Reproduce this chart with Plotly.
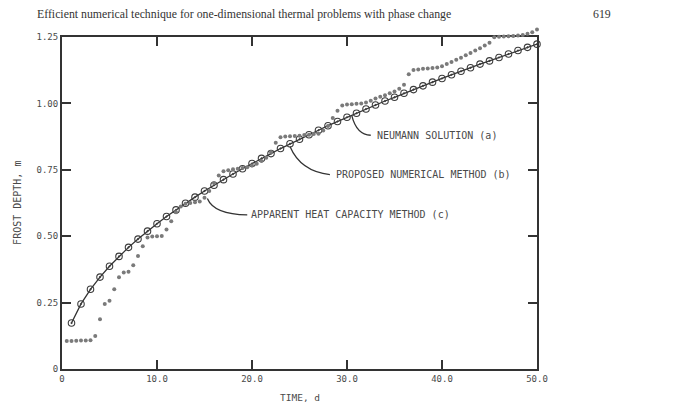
import plotly.graph_objects as go

# Neumann solution (a) / proposed numerical method (b): daily values
neumann_time = [1, 2, 3, 4, 5, 6, 7, 8, 9, 10, 11, 12, 13, 14, 15, 16, 17, 18, 19, 20,
                21, 22, 23, 24, 25, 26, 27, 28, 29, 30, 31, 32, 33, 34, 35, 36, 37, 38, 39, 40,
                41, 42, 43, 44, 45, 46, 47, 48, 49, 50]
neumann_depth = [0.173, 0.245, 0.300, 0.346, 0.387, 0.424, 0.458, 0.489, 0.519, 0.547,
                 0.574, 0.599, 0.624, 0.647, 0.670, 0.692, 0.713, 0.734, 0.754, 0.774,
                 0.793, 0.811, 0.830, 0.848, 0.865, 0.882, 0.899, 0.916, 0.932, 0.948,
                 0.963, 0.979, 0.994, 1.009, 1.023, 1.038, 1.052, 1.066, 1.080, 1.094,
                 1.108, 1.121, 1.134, 1.148, 1.160, 1.173, 1.186, 1.199, 1.211, 1.223]

# Apparent heat capacity method (c): half-day values
apparent_time = [0.5, 1.0, 1.5, 2.0, 2.5, 3.0, 3.5, 4.0, 4.5, 5.0,
                 5.5, 6.0, 6.5, 7.0, 7.5, 8.0, 8.5, 9.0, 9.5, 10.0,
                 10.5, 11.0, 11.5, 12.0, 12.5, 13.0, 13.5, 14.0, 14.5, 15.0,
                 15.5, 16.0, 16.5, 17.0, 17.5, 18.0, 18.5, 19.0, 19.5, 20.0,
                 20.5, 21.0, 21.5, 22.0, 22.5, 23.0, 23.5, 24.0, 24.5, 25.0,
                 25.5, 26.0, 26.5, 27.0, 27.5, 28.0, 28.5, 29.0, 29.5, 30.0,
                 30.5, 31.0, 31.5, 32.0, 32.5, 33.0, 33.5, 34.0, 34.5, 35.0,
                 35.5, 36.0, 36.5, 37.0, 37.5, 38.0, 38.5, 39.0, 39.5, 40.0,
                 40.5, 41.0, 41.5, 42.0, 42.5, 43.0, 43.5, 44.0, 44.5, 45.0,
                 45.5, 46.0, 46.5, 47.0, 47.5, 48.0, 48.5, 49.0, 49.5, 50.0]
apparent_depth = [0.105, 0.105, 0.106, 0.107, 0.107, 0.108, 0.124, 0.187, 0.245, 0.257,
                  0.300, 0.345, 0.363, 0.366, 0.391, 0.425, 0.462, 0.495, 0.499, 0.500,
                  0.501, 0.525, 0.556, 0.590, 0.612, 0.622, 0.625, 0.628, 0.631, 0.645,
                  0.670, 0.700, 0.729, 0.745, 0.748, 0.752, 0.754, 0.757, 0.760, 0.766,
                  0.773, 0.783, 0.795, 0.817, 0.852, 0.873, 0.875, 0.876, 0.877, 0.878,
                  0.881, 0.882, 0.885, 0.886, 0.898, 0.915, 0.945, 0.972, 0.992, 0.996,
                  0.997, 0.999, 1.000, 1.003, 1.010, 1.018, 1.025, 1.031, 1.038, 1.045,
                  1.055, 1.070, 1.110, 1.126, 1.128, 1.130, 1.131, 1.133, 1.135, 1.140,
                  1.148, 1.156, 1.164, 1.172, 1.181, 1.190, 1.199, 1.208, 1.218, 1.228,
                  1.249, 1.251, 1.252, 1.253, 1.254, 1.256, 1.258, 1.262, 1.268, 1.278]

x_tick_values = [0, 10, 20, 30, 40, 50]
x_tick_labels = ["0", "10.0", "20.0", "30.0", "40.0", "50.0"]
y_tick_values = [0, 0.25, 0.5, 0.75, 1.0, 1.25]
y_tick_labels = ["0", "0.25", "0.50", "0.75", "1.00", "1.25"]

INK = "#333333"
TXT = "#4a4a4a"
MONO = "DejaVu Sans Mono"

# Layout geometry: the framed axis occupies the lower part of a taller plot area,
# so that the (c) points rising above 1.25 remain visible on a same-scale hidden axis.
Y_MAX = 1.25
FRAME_FRAC = 332 / 346          # fraction of plot-area height used by the framed y axis
Y2_MAX = Y_MAX / FRAME_FRAC

fig = go.Figure()
fig.add_trace(go.Scatter(x=neumann_time, y=neumann_depth, mode="lines",
                         line=dict(color=INK, width=1.3), name="Neumann solution (a)"))
fig.add_trace(go.Scatter(x=neumann_time, y=neumann_depth, mode="markers",
                         marker=dict(symbol="circle-open-dot", size=6.5, color="#3c3c3c",
                                     line=dict(width=1.1)),
                         cliponaxis=False, name="Proposed numerical method (b)"))
fig.add_trace(go.Scatter(x=apparent_time, y=apparent_depth, mode="markers",
                         xaxis="x", yaxis="y2",
                         marker=dict(size=4, color="#7a7a7a"), cliponaxis=False,
                         name="Apparent heat capacity method (c)"))

axis_common = dict(showgrid=False, zeroline=False, showline=True, linecolor=INK,
                   linewidth=2, mirror="ticks", ticks="inside", ticklen=9,
                   tickwidth=1.5, tickcolor=INK,
                   tickfont=dict(family=MONO, size=9, color=TXT))

fig.update_layout(
    width=675, height=404,
    margin=dict(l=62, r=138, t=23, b=35),
    paper_bgcolor="white", plot_bgcolor="rgba(0,0,0,0)",
    showlegend=False,
    xaxis=dict(range=[0, 50], tickvals=x_tick_values, ticktext=x_tick_labels,
               **axis_common),
    yaxis=dict(range=[0, Y_MAX], domain=[0, FRAME_FRAC], tickvals=y_tick_values,
               ticktext=y_tick_labels, **axis_common),
    yaxis2=dict(range=[0, Y2_MAX], domain=[0, 1], anchor="x", visible=False,
                showgrid=False, zeroline=False),
)

# Leader lines (curved) from curves to labels
leaders = [
    "M 30.5,0.955 Q 31.0,0.882 32.5,0.880",
    "M 24.0,0.838 Q 25.1,0.745 28.2,0.732",
    "M 15.3,0.642 Q 16.0,0.582 19.5,0.580",
]
for p in leaders:
    fig.add_shape(type="path", path=p, xref="x", yref="y",
                  line=dict(color=INK, width=1.3))

labels = [
    (32.9, 0.880, "NEUMANN SOLUTION (a)"),
    (28.6, 0.732, "PROPOSED NUMERICAL METHOD (b)"),
    (19.7, 0.580, "APPARENT HEAT CAPACITY METHOD (c)"),
]
for x, y, t in labels:
    fig.add_annotation(x=x, y=y, xref="x", yref="y", text=t, showarrow=False,
                       xanchor="left", yanchor="middle",
                       font=dict(family=MONO, size=10, color=TXT))

# Axis titles
fig.add_annotation(x=-0.095, y=0.5 * FRAME_FRAC, xref="paper", yref="paper",
                   text="FROST DEPTH, m", textangle=-90, showarrow=False,
                   xanchor="center", yanchor="middle",
                   font=dict(family=MONO, size=10, color=TXT))
fig.add_annotation(x=0.501, y=-0.083, xref="paper", yref="paper", text="TIME, d",
                   showarrow=False, xanchor="center", yanchor="middle",
                   font=dict(family=MONO, size=9.5, color=TXT))

# Page header
fig.add_annotation(x=-0.057, y=1.026, xref="paper", yref="paper",
                   text="Efficient numerical technique for one-dimensional thermal problems with phase change",
                   showarrow=False, xanchor="left", yanchor="middle",
                   font=dict(family="Liberation Serif", size=11.8, color="#333333"))
fig.add_annotation(x=1.137, y=1.026, xref="paper", yref="paper", text="619",
                   showarrow=False, xanchor="center", yanchor="middle",
                   font=dict(family="Liberation Serif", size=11.8, color="#333333"))

fig.write_html("out.html")
